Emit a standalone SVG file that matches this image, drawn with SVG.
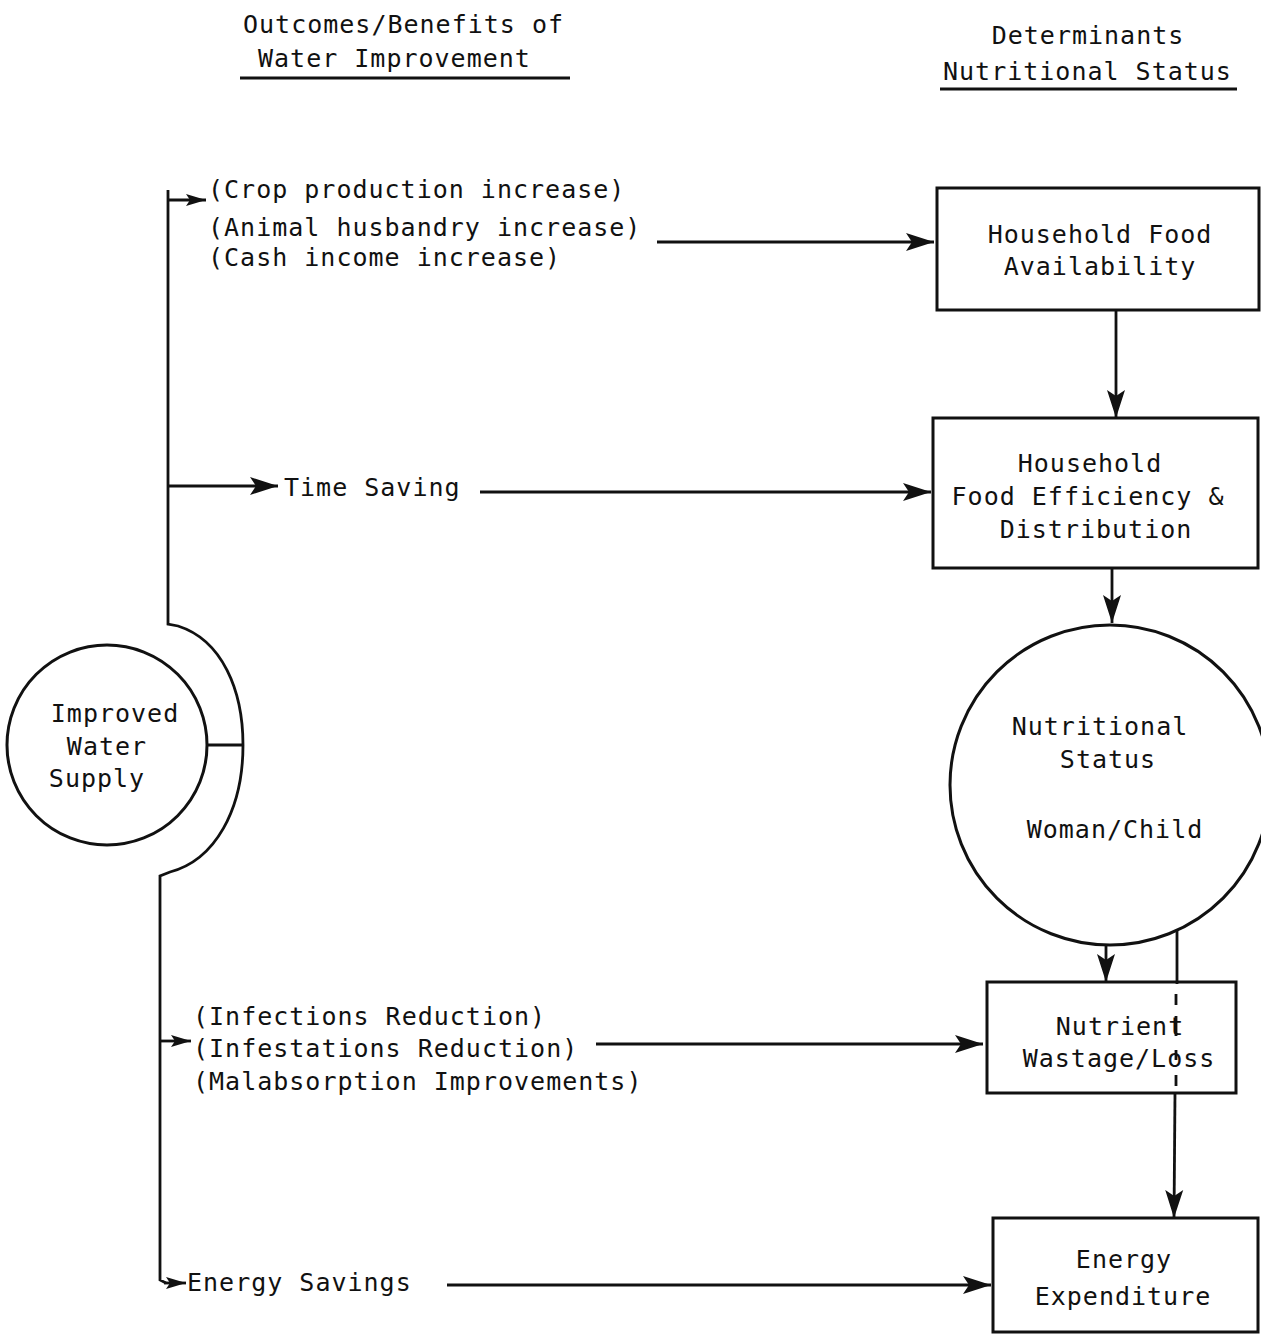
<svg xmlns="http://www.w3.org/2000/svg" width="1261" height="1336" viewBox="0 0 1261 1336">
<style>
text{font-family:"DejaVu Sans Mono","Liberation Mono",monospace;font-size:25px;letter-spacing:1px;fill:#111}
.c{text-anchor:middle}
.n{fill:#fff;stroke:#111;stroke-width:3}
.l{fill:none;stroke:#111;stroke-width:2.8}
</style>
<defs>
<marker id="a" markerUnits="userSpaceOnUse" markerWidth="30" markerHeight="20" refX="28" refY="10" orient="auto"><path d="M0,1 L28,10 L0,19 L6,10 Z" fill="#111"/></marker>
<marker id="s" markerUnits="userSpaceOnUse" markerWidth="22" markerHeight="14" refX="20" refY="7" orient="auto"><path d="M0,1 L20,7 L0,13 L4,7 Z" fill="#111"/></marker>
</defs>
<g id="headers">
<text x="243" y="33">Outcomes/Benefits of</text>
<text x="258" y="67">Water Improvement</text>
<line x1="240" y1="78" x2="570" y2="78" class="l" stroke-width="2"/>
<text x="1088" y="44" class="c">Determinants</text>
<text x="943" y="80">Nutritional Status</text>
<line x1="940" y1="89" x2="1237" y2="89" class="l" stroke-width="2"/>
</g>
<g id="n-water">
<circle class="n" cx="107" cy="745" r="100"/>
<text x="115" y="722" class="c">Improved</text>
<text x="107" y="755" class="c">Water</text>
<text x="97" y="787" class="c">Supply</text>
</g>
<g id="t-income">
<text x="208" y="198">(Crop production increase)</text>
<text x="208" y="236">(Animal husbandry increase)</text>
<text x="208" y="266">(Cash income increase)</text>
</g>
<g id="t-time"><text x="284" y="496">Time Saving</text></g>
<g id="t-health">
<text x="193" y="1025">(Infections Reduction)</text>
<text x="193" y="1057">(Infestations Reduction)</text>
<text x="193" y="1090">(Malabsorption Improvements)</text>
</g>
<g id="t-energy"><text x="187" y="1291">Energy Savings</text></g>
<g id="n-avail">
<rect class="n" x="937" y="188" width="322" height="122"/>
<text x="1100" y="243" class="c">Household Food</text>
<text x="1100" y="275" class="c">Availability</text>
</g>
<g id="n-eff">
<rect class="n" x="933" y="418" width="325" height="150"/>
<text x="1090" y="472" class="c">Household</text>
<text x="1088" y="505" class="c">Food Efficiency &amp;</text>
<text x="1096" y="538" class="c">Distribution</text>
</g>
<g id="n-status">
<circle class="n" cx="1110" cy="785" r="160"/>
<text x="1100" y="735" class="c">Nutritional</text>
<text x="1108" y="768" class="c">Status</text>
<text x="1115" y="838" class="c">Woman/Child</text>
</g>
<g id="n-waste">
<rect class="n" x="987" y="982" width="249" height="111"/>
<text x="1120" y="1035" class="c">Nutrient</text>
<text x="1119" y="1067" class="c">Wastage/Loss</text>
</g>
<g id="n-expend">
<rect class="n" x="993" y="1218" width="265" height="114"/>
<text x="1124" y="1268" class="c">Energy</text>
<text x="1123" y="1305" class="c">Expenditure</text>
</g>
<g id="connectors">
<path class="l" d="M168,190 L168,624 L178,626 C222,640 243,690 243,745 C243,810 215,860 170,872 L160,876 L160,1280 L166,1283"/>
<line class="l" x1="208" y1="745" x2="243" y2="745"/>
<line class="l" x1="168" y1="200" x2="206" y2="200" marker-end="url(#s)"/>
<line class="l" x1="168" y1="486" x2="278" y2="486" marker-end="url(#a)"/>
<line class="l" x1="160" y1="1041" x2="191" y2="1041" marker-end="url(#s)"/>
<line class="l" x1="164" y1="1283" x2="186" y2="1283" marker-end="url(#s)"/>
<line class="l" x1="657" y1="242" x2="934" y2="242" marker-end="url(#a)"/>
<line class="l" x1="480" y1="492" x2="931" y2="492" marker-end="url(#a)"/>
<line class="l" x1="596" y1="1044" x2="983" y2="1044" marker-end="url(#a)"/>
<line class="l" x1="447" y1="1285" x2="991" y2="1285" marker-end="url(#a)"/>
<line class="l" x1="1116" y1="311" x2="1116" y2="418" marker-end="url(#a)"/>
<line class="l" x1="1112" y1="569" x2="1112" y2="623" marker-end="url(#a)"/>
<line class="l" x1="1106" y1="945" x2="1106" y2="982" marker-end="url(#a)"/>
<line class="l" x1="1177" y1="930" x2="1177" y2="984"/>
<line class="l" x1="1176" y1="994" x2="1176" y2="1005"/>
<line class="l" x1="1176" y1="1016" x2="1176" y2="1036"/>
<line class="l" x1="1176" y1="1050" x2="1176" y2="1060"/>
<line class="l" x1="1176" y1="1075" x2="1176" y2="1086"/>
<line class="l" x1="1175" y1="1093" x2="1174" y2="1218" marker-end="url(#a)"/>
</g>
</svg>
